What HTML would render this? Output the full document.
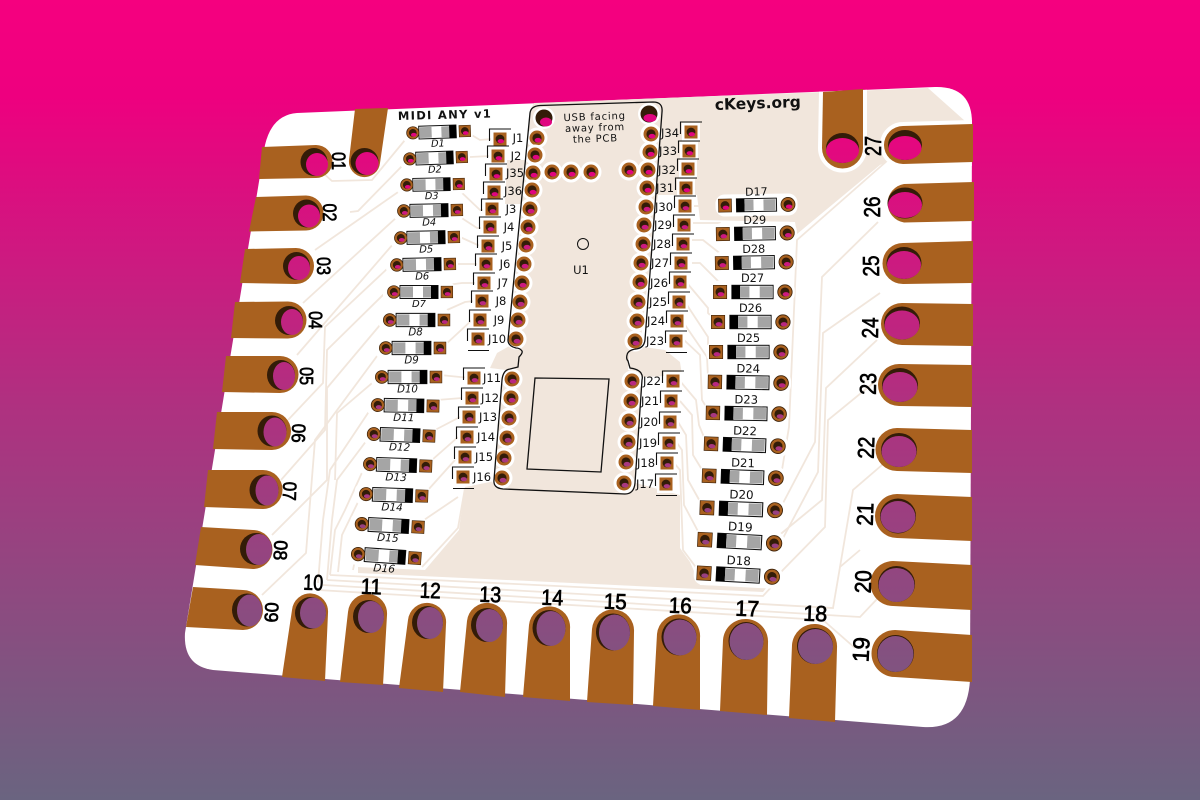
<!DOCTYPE html>
<html><head><meta charset="utf-8"><title>MIDI ANY v1 PCB</title>
<style>
html,body{margin:0;padding:0;background:#6a6480}
svg{display:block}
text{font-family:"DejaVu Sans","Liberation Sans",sans-serif;fill:#111}
.j{font-size:11.5px;text-anchor:middle}
.big{font-family:"Liberation Sans",sans-serif;text-anchor:middle;fill:#000;stroke:#000;stroke-width:.7px}
.dl{font-size:10px;text-anchor:middle;font-style:italic}
.dr{font-size:11px;text-anchor:middle}
</style></head><body>
<svg width="1200" height="800" viewBox="0 0 1200 800" xmlns="http://www.w3.org/2000/svg">
<defs>
<linearGradient id="bg" gradientUnits="userSpaceOnUse" x1="0" y1="0" x2="0" y2="800">
<stop offset="0" stop-color="#f5007f"/><stop offset=".12" stop-color="#ee007f"/><stop offset=".5" stop-color="#b03080"/><stop offset="1" stop-color="#6a6480"/>
</linearGradient>
<clipPath id="board"><path d="M297 113L935 87Q972 86 972 123L970 680Q967 730 923 727L213 670Q183 666 185 633L265 145Q272 115 297 113Z"/></clipPath>
<g id="h"><circle r="10.5" fill="#fff"/><circle r="7.5" fill="#a9611f"/><circle r="4.6" fill="#331c08"/><ellipse cx="1" cy="2.2" rx="3.4" ry="2.3" fill="currentColor"/></g>
<g id="o"><circle r="7" fill="#a9611f" stroke="#3a2008" stroke-width=".8"/><circle r="4.4" fill="#331c08"/><ellipse cx="1" cy="2.2" rx="3.2" ry="2.1" fill="currentColor"/></g>
<g id="s"><rect x="-6.5" y="-6.5" width="13" height="13" fill="#a9611f" stroke="#3a2008" stroke-width=".6"/><circle r="4.4" fill="#331c08"/><ellipse cx=".8" cy="2.2" rx="3.2" ry="2.1" fill="currentColor"/></g>
<g id="j"><rect x="-9" y="-9" width="18" height="18" fill="#fff"/><rect x="-6.5" y="-6.5" width="13" height="13" fill="#a9611f"/><circle r="4.4" fill="#331c08"/><ellipse cx=".8" cy="2.2" rx="3.2" ry="2.1" fill="currentColor"/><path d="M-10.500 2V-10H11" fill="none" stroke="#111" stroke-width="1.100"/></g>
<path id="e" d="M-10 11.500H11" fill="none" stroke="#111" stroke-width="1.100"/>
<g id="dl"><rect x="-36" y="-10" width="72" height="20" rx="7" fill="#fff"/>
<rect x="-19" y="-6.500" width="38" height="13" fill="#fff" stroke="#111" stroke-width="1"/><rect x="-18" y="-5.500" width="12" height="11" fill="#a5a5a5"/><rect x="4" y="-5.500" width="9" height="11" fill="#a5a5a5"/><rect x="12" y="-6.500" width="7" height="13" fill="#000"/>
<use href="#o" x="-28" transform="scale(.9)"/><use href="#s" x="31" transform="scale(.9)"/></g>
<g id="dr"><rect x="-41" y="-11" width="82" height="22" rx="9" fill="#fff"/>
<rect x="-20" y="-6.500" width="40" height="13" fill="#fff" stroke="#111" stroke-width="1"/><rect x="-20" y="-6.500" width="8" height="13" fill="#000"/><rect x="-12" y="-5.500" width="9" height="11" fill="#a5a5a5"/><rect x="7" y="-5.500" width="12" height="11" fill="#a5a5a5"/>
<use href="#o" x="31.500"/><use href="#s" x="-31.500"/></g>
</defs>
<rect width="1200" height="800" fill="url(#bg)"/>
<path d="M297 113L935 87Q972 86 972 123L970 680Q967 730 923 727L213 670Q183 666 185 633L265 145Q272 115 297 113Z" fill="#fff"/>
<g fill="#f1e6dc">
<path d="M534 103L928 88L965 121V127L880 165L797 234L795 222L700 220L697 195L658 195L640 347L630 352L628 370L642 373L635 483L625 494L503 489L494 483L502 380L518 367L519 357L510 345L530 110Z"/>
<path d="M465 487L459 530L425 570L358 567L358 573L763 592L767 587L700 585L690 562L680 548L680 495L625 480L500 480Z"/>
<path d="M630 345L665 350L680 362L682 375L630 378Z"/>
<path d="M497 353L520 340L522 372L490 368Z"/>
<path d="M507 160H525L522 204H505Z"/>
</g>
<g fill="none" stroke="#f1e6dc" stroke-width="1.800">
<path d="M323 173L332 181L372 180L405 140"/><path d="M350 212L358 211L403 165"/><path d="M315 250L401 190"/><path d="M303 303L397 217"/><path d="M297 355L394 243"/>
<path d="M288 420L323 383L325 327L388 268"/><path d="M281 480L325 430L327 350L385 293"/><path d="M272 535L327 480L327 388L380 325"/><path d="M262 595L306 553L315 440L380 352"/><path d="M335 480L337 413L378 378"/><path d="M318 583L323 520L330 470L372 407"/><path d="M327 580L332 520L337 480L370 436"/><path d="M330 575L335 530L345 510L365 466"/><path d="M338 572L342 535L360 498"/>
<path d="M353 570L355 560"/>
<path d="M330 575L763 596L776 582"/><path d="M327 580L833 608L840 567L860 550"/><path d="M323 585L860 617L878 598"/><path d="M318 590L823 620L855 648"/>
<path d="M465 131L480 140L492 139"/><path d="M470 157L490 156"/><path d="M459 190L480 210L485 210"/><path d="M457 215L477 228L482 228"/><path d="M460 237L480 246"/><path d="M458 264L478 264"/><path d="M447 285L462 283L475 283"/><path d="M447 310L465 302L474 301"/><path d="M445 345L472 320"/><path d="M440 375L470 378"/><path d="M437 400L462 398"/><path d="M435 430L460 417"/><path d="M432 460L458 437"/><path d="M428 490L455 460"/><path d="M424 520L458 497"/><path d="M465 488L458 528L422 567"/>
<path d="M690 206H720"/><path d="M690 223H720L728 232"/><path d="M690 240H703L722 255"/><path d="M692 263H700L720 283"/><path d="M687 283L708 308V313L715 320"/><path d="M685 302L708 337V345"/><path d="M683 322L707 357L708 377"/><path d="M684 340L700 355L702 400L708 410"/><path d="M680 381L696 400L699 425L706 442"/><path d="M680 401L692 415L693 455L704 473"/><path d="M678 422L686 435L688 480L702 505"/><path d="M677 443L682 450L684 505L700 535"/><path d="M674 463L680 470L683 550L698 570"/>
<path d="M888 160L797 240L789 427L782 470"/><path d="M878 222L822 277L815 442L782 505"/><path d="M880 293L823 333L818 472L782 540"/><path d="M877 340L826 388L822 500L777 537"/><path d="M877 380L828 420L825 527L778 575"/><path d="M882 465L853 490L840 567"/>
</g>
<g clip-path="url(#board)" fill="#fff" stroke="#fff" stroke-width="8">
<path d="M823 92L863 89L863 148A20.500 20.500 0 0 1 822 148Z"/>
<path d="M973 124L903 126A19 19 0 0 0 903 164L973 162Z"/>
</g>
<g fill="#a9611f">
<path d="M823 92L863 89L863 148A20.500 20.500 0 0 1 822 148Z"/>
<path d="M973 124L903 126A19 19 0 0 0 903 164L973 162Z"/>
<path d="M355 109L388 108L380 163A15.500 15.500 0 0 1 349 160Z"/>
<path d="M262 147L316 145A16.500 16.500 0 0 1 316 178L259 179Z"/>
<path d="M256 197L306 195.500A17.500 17.500 0 0 1 306 230.500L249 231.500Z"/>
<path d="M245 249L296 248A18 18 0 0 1 296 284L240 283Z"/>
<path d="M235 302L288 301.500A18.500 18.500 0 0 1 288 338.500L231 338Z"/>
<path d="M226 356L280 356A18.500 18.500 0 0 1 280 393L222 392Z"/>
<path d="M217 412L272 412A19 19 0 0 1 272 450L213 449Z"/>
<path d="M208 470L263 470A19.500 19.500 0 0 1 263 509L204 507Z"/>
<path d="M201 527L253 530A19.500 19.500 0 0 1 253 569L195 565Z"/>
<path d="M193 587L243 590A20 20 0 0 1 243 630L186 627Z"/>
<path d="M974 182L904 184A19.500 19.500 0 0 0 904 222.500L974 221Z"/>
<path d="M973 241L903 243A20.500 20.500 0 0 0 903 284L973 283Z"/>
<path d="M973 304L902 303A21 21 0 0 0 902 345L973 346Z"/>
<path d="M972 365L899 364A21 21 0 0 0 899 406L972 407Z"/>
<path d="M972 430L897 428A21.500 21.500 0 0 0 897 471L972 473Z"/>
<path d="M972 497L897 494A22 22 0 0 0 897 538L972 541Z"/>
<path d="M972 565L893 561A22.500 22.500 0 0 0 893 606L972 610Z"/>
<path d="M972 635L895 630A23.500 23.500 0 0 0 895 677L972 682Z"/>
<path d="M282 677L292 610A18 18 0 0 1 328 613L325 681Z"/>
<path d="M340 682L348 612A19.500 19.500 0 0 1 387 615L383 685Z"/>
<path d="M399 688L408 620A19 19 0 0 1 446 624L443 692Z"/>
<path d="M460 692L467 621A20 20 0 0 1 507 625L505 697Z"/>
<path d="M523 697L529 625A20.500 20.500 0 0 1 570 629L570 701Z"/>
<path d="M587 702L592 629A21 21 0 0 1 634 632L633 705Z"/>
<path d="M653 706L657 634A21.500 21.500 0 0 1 700 638L700 710Z"/>
<path d="M720 711L723 640A22.500 22.500 0 0 1 768 643L767 715Z"/>
<path d="M789 718L792 645A22.500 22.500 0 0 1 837 648L835 722Z"/>
</g>
<g fill="#331c08">
<ellipse cx="314" cy="162" rx="13.500" ry="14"/><ellipse cx="364.500" cy="161.500" rx="14" ry="13.500"/><ellipse cx="306.500" cy="213.500" rx="13.500" ry="14"/><ellipse cx="296.500" cy="266" rx="13.500" ry="14"/><ellipse cx="289" cy="320.500" rx="14" ry="14.500"/><ellipse cx="281" cy="375" rx="14" ry="15"/><ellipse cx="272" cy="431" rx="14.500" ry="15.500"/><ellipse cx="264" cy="490" rx="14.500" ry="15.500"/><ellipse cx="256" cy="549" rx="16" ry="16"/><ellipse cx="247" cy="610" rx="15" ry="16.500"/>
<ellipse cx="842.500" cy="148" rx="16.500" ry="15"/><ellipse cx="905" cy="145" rx="17" ry="15"/><ellipse cx="905" cy="203" rx="17.500" ry="15.500"/><ellipse cx="904" cy="263" rx="17.500" ry="16"/><ellipse cx="902" cy="323" rx="18" ry="16.500"/><ellipse cx="900" cy="385" rx="18" ry="17"/><ellipse cx="899" cy="450" rx="18" ry="17"/><ellipse cx="898" cy="516" rx="18" ry="17.500"/><ellipse cx="896.500" cy="584" rx="18.500" ry="18"/><ellipse cx="895.500" cy="653.500" rx="18.500" ry="18.500"/>
<ellipse cx="310.500" cy="613" rx="15.500" ry="16"/><ellipse cx="368.500" cy="616.500" rx="15.500" ry="16.500"/><ellipse cx="427.500" cy="622.500" rx="15.500" ry="16.500"/><ellipse cx="487" cy="625" rx="16" ry="17"/><ellipse cx="549" cy="628" rx="16.500" ry="18"/><ellipse cx="613" cy="632" rx="17" ry="18.500"/><ellipse cx="679" cy="637" rx="17.500" ry="18.500"/><ellipse cx="746" cy="641" rx="17.500" ry="19"/><ellipse cx="815" cy="646" rx="18" ry="18"/>
</g>
<g fill="url(#bg)">
<ellipse cx="317" cy="164.500" rx="11" ry="11.500"/><ellipse cx="367" cy="163.500" rx="11.500" ry="11.500"/><ellipse cx="309" cy="216" rx="11" ry="11.500"/><ellipse cx="299" cy="268" rx="11" ry="12"/><ellipse cx="292" cy="322" rx="11" ry="13"/><ellipse cx="284" cy="376" rx="11" ry="14"/><ellipse cx="275" cy="432" rx="11.500" ry="14.500"/><ellipse cx="267" cy="490.500" rx="11.500" ry="15"/><ellipse cx="259" cy="549.500" rx="13" ry="15.500"/><ellipse cx="249.500" cy="610.500" rx="12.500" ry="16"/>
<ellipse cx="842.500" cy="150.500" rx="16.500" ry="12.500"/><ellipse cx="905" cy="148" rx="16.500" ry="12"/><ellipse cx="905" cy="205" rx="17" ry="13"/><ellipse cx="904" cy="265" rx="17" ry="14"/><ellipse cx="902" cy="325" rx="17.500" ry="14.500"/><ellipse cx="900" cy="387" rx="17.500" ry="15"/><ellipse cx="899" cy="451.500" rx="17.500" ry="15.500"/><ellipse cx="898" cy="517" rx="17.500" ry="16"/><ellipse cx="896.500" cy="585" rx="18" ry="17"/><ellipse cx="895.500" cy="654" rx="18" ry="18"/>
<ellipse cx="313" cy="613" rx="13" ry="15.500"/><ellipse cx="371" cy="617" rx="13" ry="16"/><ellipse cx="430" cy="623" rx="13" ry="16"/><ellipse cx="489.500" cy="625.500" rx="13.500" ry="16.500"/><ellipse cx="551" cy="628.500" rx="14.500" ry="17.500"/><ellipse cx="614.500" cy="632.500" rx="15.500" ry="18"/><ellipse cx="680" cy="637.500" rx="16.500" ry="18"/><ellipse cx="746.500" cy="641.500" rx="17" ry="18.500"/><ellipse cx="815.500" cy="646.500" rx="17.500" ry="17.500"/>
</g>
<g color="#e0057f">
<circle cx="544" cy="118" r="11" fill="#fff"/><circle cx="649" cy="114" r="11" fill="#fff"/><circle cx="544" cy="118" r="8.500" fill="#331c08"/><circle cx="649" cy="114" r="8.500" fill="#331c08"/>
<ellipse cx="546" cy="122" rx="6" ry="4.500" fill="#e0057f"/><ellipse cx="650" cy="118" rx="6.500" ry="4" fill="#e0057f"/>
<use href="#h" x="537" y="138"/><use href="#h" x="535" y="155"/><use href="#h" x="533" y="173"/><use href="#h" x="532" y="190"/><use href="#h" x="552" y="172"/><use href="#h" x="571" y="172"/><use href="#h" x="591" y="172"/><use href="#h" x="629" y="170"/><use href="#h" x="651" y="134"/><use href="#h" x="650" y="152"/><use href="#h" x="648" y="170"/><use href="#h" x="647" y="188"/>
<use href="#j" x="500" y="139"/><use href="#j" x="498" y="156"/><use href="#j" x="496" y="174"/><use href="#j" x="494" y="192"/><use href="#j" x="691" y="132"/><use href="#j" x="689" y="151"/><use href="#j" x="688" y="169"/><use href="#j" x="686" y="188"/>
</g>
<g color="#cc1a80">
<use href="#h" x="530" y="209"/><use href="#h" x="528" y="227"/><use href="#h" x="526" y="245"/><use href="#h" x="524" y="264"/><use href="#h" x="522" y="283"/><use href="#h" x="646" y="207"/><use href="#h" x="644" y="225"/><use href="#h" x="643" y="244"/><use href="#h" x="641" y="263"/><use href="#h" x="640" y="282"/>
<use href="#j" x="492" y="209"/><use href="#j" x="490" y="227"/><use href="#j" x="488" y="246"/><use href="#j" x="486" y="264"/><use href="#j" x="484" y="283"/><use href="#j" x="685" y="206"/><use href="#j" x="684" y="225"/><use href="#j" x="683" y="244"/><use href="#j" x="681" y="263"/><use href="#j" x="680" y="282"/>
</g>
<g color="#b82880">
<use href="#h" x="520" y="302"/><use href="#h" x="518" y="320"/><use href="#h" x="516" y="339"/><use href="#h" x="512" y="379"/><use href="#h" x="511" y="398"/><use href="#h" x="638" y="302"/><use href="#h" x="637" y="321"/><use href="#h" x="635" y="341"/><use href="#h" x="632" y="381"/><use href="#h" x="631" y="401"/>
<use href="#j" x="482" y="301"/><use href="#j" x="480" y="320"/><use href="#j" x="478" y="339"/><use href="#e" x="478" y="339"/><use href="#j" x="474" y="378"/><use href="#j" x="472" y="398"/><use href="#j" x="679" y="302"/><use href="#j" x="677" y="321"/><use href="#j" x="676" y="341"/><use href="#e" x="676" y="341"/><use href="#j" x="673" y="381"/><use href="#j" x="671" y="401"/>
</g>
<g color="#a83880">
<use href="#h" x="509" y="418"/><use href="#h" x="507" y="438"/><use href="#h" x="504" y="458"/><use href="#h" x="502" y="478"/><use href="#h" x="629" y="421"/><use href="#h" x="628" y="442"/><use href="#h" x="626" y="462"/><use href="#h" x="624" y="483"/>
<use href="#j" x="469" y="417"/><use href="#j" x="467" y="437"/><use href="#j" x="465" y="457"/><use href="#j" x="463" y="477"/><use href="#e" x="463" y="477"/><use href="#j" x="670" y="422"/><use href="#j" x="669" y="443"/><use href="#j" x="667" y="463"/><use href="#j" x="666" y="484"/><use href="#e" x="666" y="484"/>
</g>
<g fill="none" stroke="#111" stroke-width="1.300">
<path d="M530 113Q531 106 540 105.500L653 102Q663 102 662 112L645 340Q644 348 636 349Q628 350 627 355Q626 359 628 361L630 368Q638 369 641 373Q643 376 642 380L635 483Q634 494 625 494L503 489Q493 488 494 480L502 380Q503 370 510 369L518 367L519 357Q523 353 522 351Q520 348 516 348Q508 346 508 340Z"/>
<path d="M535 378L609 379L601 472L527 469Z"/><circle cx="583" cy="244" r="5.500" stroke-width="1"/>
</g>
<g class="ds">
<g color="#e0057f">
<g transform="translate(437.500 132) rotate(-2) scale(.98)"><use href="#dl"/><text class="dl" y="15">D1</text></g>
<g transform="translate(434.500 158) rotate(-2) scale(.98)"><use href="#dl"/><text class="dl" y="15">D2</text></g>
<g transform="translate(431.500 184.500) rotate(-1) scale(.98)"><use href="#dl"/><text class="dl" y="15">D3</text></g>
<g transform="translate(756.500 205) rotate(-1)"><use href="#dr"/><text class="dr" y="-9.500">D17</text></g>
</g>
<g color="#cc1a80">
<g transform="translate(429 210.500) rotate(-1) scale(1)"><use href="#dl"/><text class="dl" y="15">D4</text></g>
<g transform="translate(426 237.500) rotate(-1) scale(1)"><use href="#dl"/><text class="dl" y="15">D5</text></g>
<g transform="translate(422 264.500) rotate(-1) scale(1)"><use href="#dl"/><text class="dl" y="15">D6</text></g>
<g transform="translate(419 292) scale(1)"><use href="#dl"/><text class="dl" y="15">D7</text></g>
<g transform="translate(755 233.500) rotate(-1) scale(1.02)"><use href="#dr"/><text class="dr" y="-9.500">D29</text></g>
<g transform="translate(754 262.500) rotate(-1) scale(1.02)"><use href="#dr"/><text class="dr" y="-9.500">D28</text></g>
<g transform="translate(752.500 292) scale(1.03)"><use href="#dr"/><text class="dr" y="-9.500">D27</text></g>
</g>
<g color="#b82880">
<g transform="translate(415.500 320) scale(1.02)"><use href="#dl"/><text class="dl" y="15">D8</text></g>
<g transform="translate(411.500 348) scale(1.02)"><use href="#dl"/><text class="dl" y="15">D9</text></g>
<g transform="translate(407.500 377) scale(1.02)"><use href="#dl"/><text class="dl" y="15">D10</text></g>
<g transform="translate(750.500 322) scale(1.03)"><use href="#dr"/><text class="dr" y="-9.500">D26</text></g>
<g transform="translate(748.500 352) scale(1.03)"><use href="#dr"/><text class="dr" y="-9.500">D25</text></g>
<g transform="translate(748 382.500) rotate(1) scale(1.05)"><use href="#dr"/><text class="dr" y="-9.500">D24</text></g>
</g>
<g color="#a83880">
<g transform="translate(404 405.500) rotate(1) scale(1.04)"><use href="#dl"/><text class="dl" y="15">D11</text></g>
<g transform="translate(400 435) rotate(2) scale(1.04)"><use href="#dl"/><text class="dl" y="15">D12</text></g>
<g transform="translate(396.500 465) rotate(2) scale(1.05)"><use href="#dl"/><text class="dl" y="15">D13</text></g>
<g transform="translate(392.500 495) rotate(2) scale(1.05)"><use href="#dl"/><text class="dl" y="15">D14</text></g>
<g transform="translate(746 413.500) rotate(1) scale(1.05)"><use href="#dr"/><text class="dr" y="-9.500">D23</text></g>
<g transform="translate(744.500 445) rotate(2) scale(1.06)"><use href="#dr"/><text class="dr" y="-9.500">D22</text></g>
<g transform="translate(742.500 477) rotate(2) scale(1.06)"><use href="#dr"/><text class="dr" y="-9.500">D21</text></g>
</g>
<g color="#984080">
<g transform="translate(388.500 525.500) rotate(3) scale(1.06)"><use href="#dl"/><text class="dl" y="15">D15</text></g>
<g transform="translate(385 556) rotate(4) scale(1.07)"><use href="#dl"/><text class="dl" y="15">D16</text></g>
<g transform="translate(741 509) rotate(2) scale(1.08)"><use href="#dr"/><text class="dr" y="-9.500">D20</text></g>
<g transform="translate(739.500 541.500) rotate(3) scale(1.1)"><use href="#dr"/><text class="dr" y="-9.500">D19</text></g>
<g transform="translate(738 575) rotate(3) scale(1.08)"><use href="#dr"/><text class="dr" y="-9.500">D18</text></g>
</g>
</g>
<g class="labels">
<text class="j" x="518" y="142">J1</text><text class="j" x="516" y="160">J2</text><text class="j" x="515" y="177">J35</text><text class="j" x="513" y="195">J36</text><text class="j" x="511" y="213">J3</text><text class="j" x="509" y="231">J4</text><text class="j" x="507" y="250">J5</text><text class="j" x="505" y="268">J6</text><text class="j" x="503" y="287">J7</text><text class="j" x="501" y="305">J8</text><text class="j" x="499" y="324">J9</text><text class="j" x="497" y="343">J10</text>
<text class="j" x="492" y="382">J11</text><text class="j" x="490" y="402">J12</text><text class="j" x="488" y="421">J13</text><text class="j" x="486" y="441">J14</text><text class="j" x="484" y="461">J15</text><text class="j" x="482" y="481">J16</text>
<text class="j" x="670" y="137">J34</text><text class="j" x="668" y="155">J33</text><text class="j" x="667" y="174">J32</text><text class="j" x="665" y="192">J31</text><text class="j" x="664" y="211">J30</text><text class="j" x="663" y="229">J29</text><text class="j" x="662" y="248">J28</text><text class="j" x="660" y="267">J27</text><text class="j" x="659" y="287">J26</text><text class="j" x="658" y="306">J25</text><text class="j" x="656" y="325">J24</text><text class="j" x="655" y="345">J23</text>
<text class="j" x="652" y="385">J22</text><text class="j" x="650" y="405">J21</text><text class="j" x="649" y="426">J20</text><text class="j" x="648" y="447">J19</text><text class="j" x="646" y="467">J18</text><text class="j" x="645" y="488">J17</text>
<text class="j" x="581" y="274">U1</text>
<g transform="rotate(-2 595 128)" font-size="10" text-anchor="middle" letter-spacing=".8"><text x="595" y="120">USB facing</text><text x="595" y="131">away from</text><text x="595" y="142">the PCB</text></g>
<text x="398" y="120" font-size="11.500" font-weight="bold" letter-spacing="1.300" transform="rotate(-1.500 398 120)">MIDI ANY v1</text>
<text x="715" y="110" font-size="15.500" font-weight="bold" transform="rotate(-2 715 110)" style="fill:#111">cKeys.org</text>
<g font-size="19">
<text class="big" textLength="18" lengthAdjust="spacingAndGlyphs" transform="translate(332 161) rotate(90)">01</text>
<text class="big" textLength="18" lengthAdjust="spacingAndGlyphs" transform="translate(323 212.500) rotate(90)">02</text>
<text class="big" textLength="18" lengthAdjust="spacingAndGlyphs" transform="translate(317 266) rotate(90)">03</text>
<text class="big" textLength="18" lengthAdjust="spacingAndGlyphs" transform="translate(309 320) rotate(91)">04</text>
<text class="big" textLength="18" lengthAdjust="spacingAndGlyphs" transform="translate(300 376) rotate(91)">05</text>
<text class="big" textLength="19" lengthAdjust="spacingAndGlyphs" transform="translate(292 433) rotate(92)">06</text>
<text class="big" textLength="19" lengthAdjust="spacingAndGlyphs" transform="translate(283 491) rotate(92)">07</text>
<text class="big" textLength="20" lengthAdjust="spacingAndGlyphs" transform="translate(274 550) rotate(93)">08</text>
<text class="big" textLength="20" lengthAdjust="spacingAndGlyphs" transform="translate(265 612) rotate(93)">09</text>
</g>
<g font-size="23">
<text class="big" textLength="20" lengthAdjust="spacingAndGlyphs" transform="translate(881 146) rotate(-90)">27</text>
<text class="big" textLength="21" lengthAdjust="spacingAndGlyphs" transform="translate(880 207) rotate(-90)">26</text>
<text class="big" textLength="21" lengthAdjust="spacingAndGlyphs" transform="translate(879 266) rotate(-90)">25</text>
<text class="big" textLength="21" lengthAdjust="spacingAndGlyphs" transform="translate(878 328) rotate(-89)">24</text>
<text class="big" textLength="22" lengthAdjust="spacingAndGlyphs" transform="translate(876 384) rotate(-89)">23</text>
<text class="big" textLength="22" lengthAdjust="spacingAndGlyphs" transform="translate(874 448) rotate(-88)">22</text>
<text class="big" textLength="23" lengthAdjust="spacingAndGlyphs" transform="translate(873 514.500) rotate(-88)">21</text>
<text class="big" textLength="23" lengthAdjust="spacingAndGlyphs" transform="translate(871 582) rotate(-88)">20</text>
<text class="big" textLength="25" lengthAdjust="spacingAndGlyphs" transform="translate(869 650) rotate(-87)">19</text>
</g>
<g font-size="22">
<text class="big" textLength="20" lengthAdjust="spacingAndGlyphs" transform="translate(313 590) rotate(2)">10</text>
<text class="big" textLength="21" lengthAdjust="spacingAndGlyphs" transform="translate(371 594) rotate(2)">11</text>
<text class="big" textLength="21" lengthAdjust="spacingAndGlyphs" transform="translate(430 598) rotate(2)">12</text>
<text class="big" textLength="22" lengthAdjust="spacingAndGlyphs" transform="translate(490 602) rotate(2)">13</text>
<text class="big" textLength="22" lengthAdjust="spacingAndGlyphs" transform="translate(552 605) rotate(2)">14</text>
<text class="big" textLength="23" lengthAdjust="spacingAndGlyphs" transform="translate(615 609) rotate(2)">15</text>
<text class="big" textLength="23" lengthAdjust="spacingAndGlyphs" transform="translate(680 613) rotate(2)">16</text>
<text class="big" textLength="24" lengthAdjust="spacingAndGlyphs" transform="translate(747 616) rotate(2)">17</text>
<text class="big" textLength="24" lengthAdjust="spacingAndGlyphs" transform="translate(815 621) rotate(2)">18</text>
</g>
</g>
</svg>
</body></html>
